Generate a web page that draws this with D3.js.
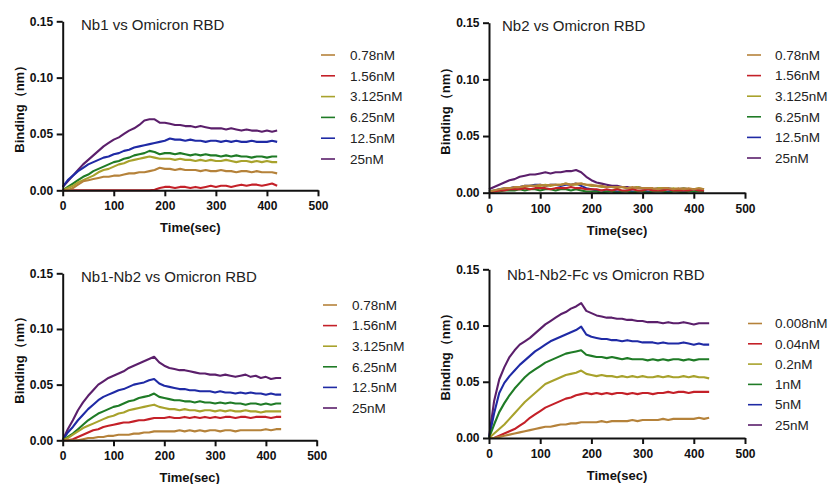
<!DOCTYPE html>
<meta charset="utf-8">
<html>
<head>
<script src="https://d3js.org/d3.v7.min.js"></script>
<style>
  body { margin: 0; background: #fff; }
  text { font-family: Arial, "Liberation Sans", sans-serif; }
</style>
</head>
<body>
<script>

// sample times (sec)
const timeShort = [0,10,20,30,40,50,60,70,80,90,100,110,120,130,140,150,160,170,180,190,200,
  210,220,230,240,250,260,270,280,290,300,310,320,330,340,350,360,370,380,390,400,410,420];
const timeLong = timeShort.concat([430]);

const concNb = ['0.78nM', '1.56nM', '3.125nM', '6.25nM', '12.5nM', '25nM'];
const concFc = ['0.008nM', '0.04nM', '0.2nM', '1nM', '5nM', '25nM'];
const colours = ['#b5823a', '#c42028', '#a8a22c', '#1f7b26', '#1f2aa5', '#5b1f6b'];

// Nb1 vs Omicron RBD, one array per concentration (low -> high)
const nb1Binding = [
  [0,0,0.002,0.005,0.008,0.009,0.010,0.011,0.012,0.012,0.013,0.013,0.014,0.015,0.015,0.016,0.016,0.017,0.018,0.020,0.019,
   0.019,0.018,0.019,0.018,0.018,0.018,0.017,0.018,0.017,0.017,0.018,0.017,0.017,0.016,0.017,0.017,0.016,0.017,0.016,0.016,0.016,0.015],
  [0,0,0,0,0,0,0,0,0,0,0,0,0,0,0,0,0,0,0.0005,0.002,0.003,
   0.003,0.002,0.003,0.003,0.002,0.003,0.002,0.003,0.004,0.003,0.004,0.004,0.003,0.004,0.005,0.004,0.005,0.005,0.004,0.005,0.006,0.004],
  [0,0.002,0.004,0.007,0.009,0.011,0.013,0.016,0.018,0.019,0.021,0.023,0.024,0.026,0.027,0.028,0.029,0.030,0.029,0.028,0.028,
   0.028,0.027,0.028,0.027,0.027,0.026,0.027,0.026,0.027,0.026,0.026,0.027,0.026,0.025,0.026,0.026,0.025,0.026,0.025,0.026,0.025,0.025],
  [0,0.003,0.006,0.009,0.012,0.014,0.017,0.019,0.021,0.023,0.025,0.026,0.028,0.029,0.031,0.032,0.033,0.035,0.034,0.032,0.033,
   0.033,0.032,0.033,0.032,0.031,0.032,0.031,0.032,0.031,0.031,0.030,0.031,0.030,0.031,0.030,0.030,0.029,0.030,0.030,0.029,0.030,0.030],
  [0.003,0.009,0.013,0.017,0.020,0.023,0.025,0.027,0.029,0.030,0.032,0.033,0.035,0.036,0.038,0.039,0.040,0.041,0.042,0.043,0.044,
   0.046,0.045,0.045,0.044,0.045,0.044,0.044,0.043,0.044,0.044,0.043,0.044,0.043,0.044,0.043,0.043,0.044,0.043,0.043,0.043,0.044,0.043],
  [0.003,0.008,0.013,0.018,0.023,0.027,0.031,0.035,0.039,0.042,0.045,0.047,0.050,0.053,0.055,0.058,0.062,0.063,0.063,0.060,0.060,
   0.059,0.058,0.058,0.057,0.057,0.056,0.057,0.056,0.055,0.055,0.055,0.054,0.055,0.054,0.053,0.054,0.053,0.053,0.052,0.053,0.052,0.053]
];

// Nb2 vs Omicron RBD
const nb2Binding = [
  [0.001,0.002,0.003,0.004,0.004,0.005,0.005,0.006,0.006,0.006,0.007,0.006,0.007,0.007,0.007,0.008,0.007,0.008,0.008,0.007,0.007,
   0.006,0.006,0.005,0.005,0.005,0.005,0.004,0.005,0.004,0.004,0.004,0.004,0.003,0.004,0.004,0.003,0.004,0.003,0.004,0.003,0.004,0.003],
  [0,0.001,0.002,0.002,0.003,0.003,0.003,0.004,0.003,0.004,0.004,0.004,0.003,0.004,0.004,0.004,0.005,0.004,0.004,0.003,0.003,
   0.003,0.002,0.003,0.002,0.003,0.002,0.002,0.003,0.002,0.002,0.003,0.002,0.002,0.002,0.003,0.002,0.002,0.002,0.002,0.003,0.002,0.002],
  [0.001,0.002,0.002,0.003,0.004,0.004,0.005,0.005,0.006,0.006,0.006,0.007,0.006,0.007,0.007,0.008,0.007,0.007,0.008,0.007,0.006,
   0.006,0.005,0.005,0.005,0.004,0.005,0.004,0.004,0.005,0.004,0.004,0.003,0.004,0.004,0.003,0.004,0.003,0.004,0.003,0.003,0.004,0.003],
  [0,0.001,0.001,0.002,0.002,0.002,0.003,0.002,0.003,0.003,0.002,0.003,0.003,0.002,0.003,0.003,0.002,0.003,0.002,0.001,0.001,
   0.001,0,0.001,0.001,0,0.001,0.001,0,0.001,0.001,0,0.001,0.001,0.001,0,0.001,0.001,0,0.001,0.001,0.001,0.001],
  [0.001,0.002,0.003,0.004,0.004,0.005,0.005,0.006,0.006,0.007,0.007,0.006,0.007,0.007,0.006,0.007,0.007,0.008,0.006,0.004,0.003,
   0.002,0.002,0.001,0.002,0.001,0.001,0.002,0.001,0.001,0.002,0.001,0.001,0.002,0.001,0.001,0.002,0.001,0.001,0.002,0.001,0.002,0.001],
  [0.003,0.005,0.007,0.009,0.011,0.012,0.014,0.015,0.016,0.016,0.017,0.018,0.017,0.018,0.018,0.019,0.019,0.020,0.018,0.014,0.011,
   0.009,0.008,0.007,0.006,0.006,0.005,0.005,0.004,0.005,0.004,0.004,0.003,0.004,0.003,0.004,0.003,0.003,0.004,0.003,0.003,0.003,0.003]
];

// Nb1-Nb2 vs Omicron RBD
const nb12Binding = [
  [0,0,0,0,0.001,0.002,0.002,0.003,0.003,0.004,0.004,0.005,0.005,0.005,0.006,0.006,0.007,0.007,0.008,0.008,0.008,
   0.008,0.008,0.009,0.008,0.009,0.008,0.009,0.008,0.009,0.009,0.008,0.009,0.009,0.008,0.009,0.009,0.009,0.009,0.009,0.010,0.009,0.010,0.010],
  [0,0,0.001,0.003,0.005,0.007,0.009,0.010,0.012,0.013,0.014,0.015,0.016,0.016,0.017,0.018,0.018,0.019,0.020,0.020,0.020,
   0.021,0.020,0.020,0.021,0.020,0.021,0.020,0.021,0.020,0.021,0.020,0.021,0.021,0.020,0.021,0.021,0.020,0.021,0.021,0.021,0.020,0.021,0.021],
  [0,0.002,0.005,0.008,0.011,0.013,0.015,0.017,0.019,0.021,0.022,0.024,0.025,0.027,0.028,0.029,0.030,0.031,0.032,0.030,0.029,
   0.028,0.028,0.027,0.028,0.027,0.027,0.026,0.027,0.027,0.026,0.027,0.026,0.027,0.026,0.026,0.027,0.026,0.026,0.025,0.026,0.026,0.026,0.026],
  [0,0.003,0.006,0.010,0.014,0.018,0.021,0.024,0.026,0.028,0.030,0.031,0.033,0.035,0.036,0.038,0.039,0.040,0.042,0.039,0.038,
   0.037,0.036,0.036,0.035,0.035,0.034,0.035,0.034,0.034,0.033,0.034,0.033,0.034,0.033,0.033,0.032,0.033,0.033,0.032,0.033,0.032,0.033,0.033],
  [0,0.007,0.012,0.018,0.023,0.028,0.032,0.036,0.039,0.041,0.043,0.045,0.046,0.048,0.050,0.051,0.052,0.054,0.055,0.051,0.049,
   0.048,0.047,0.046,0.046,0.045,0.045,0.044,0.044,0.044,0.043,0.044,0.043,0.043,0.042,0.043,0.042,0.043,0.042,0.042,0.041,0.042,0.041,0.041],
  [0,0.010,0.018,0.027,0.034,0.040,0.045,0.050,0.053,0.056,0.058,0.060,0.062,0.065,0.067,0.069,0.071,0.073,0.075,0.070,0.067,
   0.065,0.064,0.063,0.063,0.062,0.061,0.060,0.060,0.059,0.059,0.058,0.059,0.058,0.057,0.058,0.059,0.057,0.058,0.056,0.057,0.055,0.056,0.056]
];

// Nb1-Nb2-Fc vs Omicron RBD
const nb12FcBinding = [
  [0,0,0.001,0.002,0.003,0.004,0.005,0.006,0.007,0.008,0.009,0.010,0.010,0.011,0.012,0.012,0.013,0.013,0.014,0.014,0.014,
   0.014,0.015,0.014,0.015,0.015,0.015,0.015,0.016,0.015,0.016,0.016,0.016,0.016,0.017,0.016,0.017,0.017,0.017,0.017,0.017,0.018,0.017,0.018],
  [0,0,0.002,0.004,0.006,0.008,0.011,0.014,0.018,0.021,0.024,0.027,0.029,0.031,0.033,0.035,0.036,0.038,0.039,0.040,0.039,
   0.040,0.039,0.040,0.039,0.040,0.040,0.039,0.040,0.039,0.040,0.040,0.039,0.040,0.040,0.041,0.040,0.041,0.041,0.040,0.041,0.041,0.041,0.041],
  [0,0.004,0.008,0.012,0.017,0.022,0.027,0.032,0.036,0.040,0.044,0.048,0.050,0.052,0.054,0.056,0.057,0.058,0.060,0.057,0.056,
   0.055,0.056,0.055,0.055,0.054,0.055,0.054,0.055,0.054,0.055,0.054,0.054,0.055,0.054,0.055,0.054,0.054,0.055,0.054,0.055,0.054,0.054,0.053],
  [0,0.012,0.023,0.031,0.038,0.044,0.049,0.054,0.058,0.061,0.064,0.067,0.069,0.071,0.073,0.075,0.076,0.077,0.078,0.074,0.073,
   0.072,0.072,0.071,0.072,0.071,0.070,0.071,0.070,0.070,0.070,0.069,0.070,0.069,0.070,0.069,0.070,0.070,0.069,0.070,0.069,0.070,0.070,0.070],
  [0,0.022,0.040,0.049,0.055,0.060,0.065,0.069,0.073,0.077,0.080,0.083,0.086,0.088,0.090,0.092,0.094,0.096,0.099,0.092,0.090,
   0.089,0.088,0.088,0.087,0.087,0.086,0.087,0.086,0.086,0.085,0.085,0.085,0.084,0.085,0.084,0.084,0.084,0.085,0.084,0.083,0.084,0.083,0.083],
  [0,0.033,0.052,0.063,0.072,0.078,0.083,0.086,0.089,0.093,0.097,0.101,0.104,0.107,0.110,0.112,0.115,0.117,0.120,0.113,0.111,
   0.109,0.108,0.107,0.107,0.106,0.106,0.105,0.105,0.104,0.104,0.103,0.103,0.103,0.102,0.103,0.102,0.102,0.103,0.102,0.101,0.102,0.102,0.102]
];

const xTicks = [0, 100, 200, 300, 400, 500],
      yTicks = [0, 0.05, 0.10, 0.15];

// panel placement (pixels)
const panels = [
  {title: 'Nb1 vs Omicron RBD', data: nb1Binding, time: timeShort, conc: concNb,
   x0: 62.7, x1: 318, y0: 190.3, y1: 21.3, tx: 81, ty: 30, lx: 321, ly: 55, ls: 20.8, lt: 350},
  {title: 'Nb2 vs Omicron RBD', data: nb2Binding, time: timeShort, conc: concNb,
   x0: 489, x1: 745, y0: 192.7, y1: 22.7, tx: 502, ty: 30.5, lx: 747, ly: 55, ls: 20.6, lt: 775},
  {title: 'Nb1-Nb2 vs Omicron RBD', data: nb12Binding, time: timeLong, conc: concNb,
   x0: 62.7, x1: 316.7, y0: 440.3, y1: 273.3, tx: 81, ty: 281.5, lx: 323, ly: 305, ls: 20.6, lt: 352},
  {title: 'Nb1-Nb2-Fc vs Omicron RBD', data: nb12FcBinding, time: timeLong, conc: concFc,
   x0: 489, x1: 745, y0: 438, y1: 269.3, tx: 507, ty: 280, lx: 748, ly: 323.5, ls: 20.3, lt: 775}
];

const svg = d3.select('body').append('svg')
  .attr('width', 831)
  .attr('height', 484);

panels.forEach(p => {
  const x = d3.scaleLinear().domain([0, 500]).range([p.x0, p.x1]),
        y = d3.scaleLinear().domain([0, 0.15]).range([p.y0, p.y1]);
  const g = svg.append('g');

  // curves, high concentration first so the low ones sit on top
  const line = d3.line()
    .x(d => x(d.t))
    .y(d => y(d.v));
  d3.range(p.data.length).reverse().forEach(k => {
    const pts = p.data[k].map((v, i) => ({t: p.time[i], v: v}));
    g.append('path')
      .datum(pts)
      .attr('d', line)
      .attr('fill', 'none')
      .attr('stroke', colours[k])
      .attr('stroke-width', 2.1)
      .attr('stroke-linejoin', 'round');
  });

  const xAxis = g.append('g')
    .attr('transform', `translate(0,${p.y0})`)
    .call(d3.axisBottom(x).tickValues(xTicks).tickSize(6).tickSizeOuter(0).tickPadding(5.5));
  const yAxis = g.append('g')
    .attr('transform', `translate(${p.x0},0)`)
    .call(d3.axisLeft(y).tickValues(yTicks).tickFormat(d3.format('.2f')).tickSize(6).tickSizeOuter(0).tickPadding(3.5));

  [xAxis, yAxis].forEach(a => {
    a.select('.domain').attr('stroke', '#111').attr('stroke-width', 2);
    a.selectAll('.tick line').attr('stroke', '#111').attr('stroke-width', 2);
    a.selectAll('.tick text')
      .attr('fill', '#111')
      .style('font-size', '12px')
      .style('font-weight', 'bold')
      .style('font-family', 'Arial, "Liberation Sans", sans-serif');
  });

  g.append('text')
    .attr('x', (p.x0 + p.x1) / 2)
    .attr('y', p.y0 + 42)
    .attr('text-anchor', 'middle')
    .attr('fill', '#111')
    .style('font-size', '13px')
    .style('font-weight', 'bold')
    .text('Time(sec)');

  g.append('text')
    .attr('transform', `translate(${p.x0 - 39},${(p.y0 + p.y1) / 2}) rotate(-90)`)
    .attr('text-anchor', 'middle')
    .attr('fill', '#111')
    .style('font-size', '13px')
    .style('font-weight', 'bold')
    .text('Binding（nm）');

  g.append('text')
    .attr('x', p.tx)
    .attr('y', p.ty)
    .attr('fill', '#222')
    .style('font-size', '15px')
    .text(p.title);

  // legend
  const leg = g.selectAll('.leg')
    .data(p.conc)
    .enter().append('g')
      .attr('transform', (d, i) => `translate(0,${p.ly + i * p.ls})`);
  leg.append('line')
    .attr('x1', p.lx).attr('x2', p.lx + 14)
    .attr('stroke', (d, i) => colours[i])
    .attr('stroke-width', 1.6);
  leg.append('text')
    .attr('x', p.lt)
    .attr('dy', '0.35em')
    .attr('fill', '#222')
    .style('font-size', '13.5px')
    .text(d => d);
});

</script>
</body>
</html>
